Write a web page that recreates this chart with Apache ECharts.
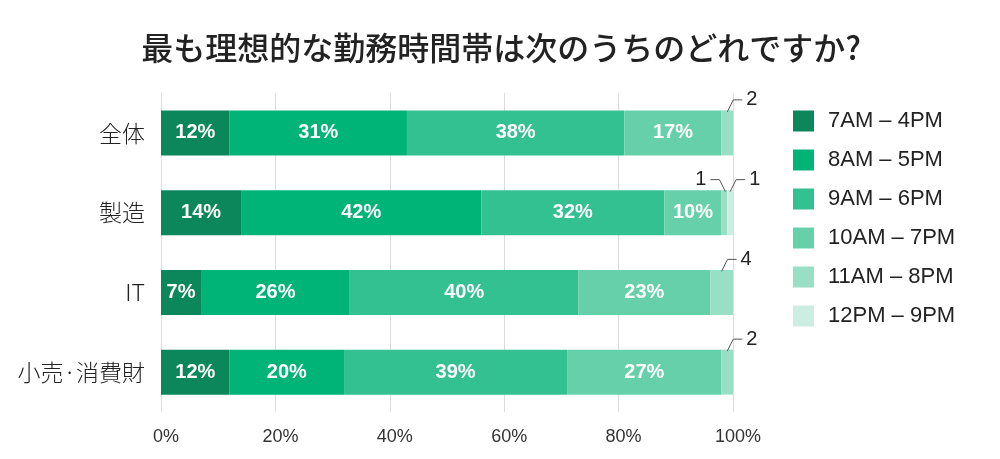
<!DOCTYPE html>
<html>
<head>
<meta charset="utf-8">
<script src="https://cdn.jsdelivr.net/npm/echarts@6/dist/echarts.min.js"></script>
<style>
  html, body { margin: 0; padding: 0; background: #fff; }
  #chart { width: 1000px; height: 459px; }
</style>
</head>
<body>
<div id="chart"></div>
<script>
// 業種
var categories = ['全体', '製造', 'IT', '小売·消費財'];
// 時間帯
var slots = ['7AM – 4PM', '8AM – 5PM', '9AM – 6PM', '10AM – 7PM', '11AM – 8PM', '12PM – 9PM'];
var colors = ['#0b875b', '#00b377', '#33c192', '#66d0ab', '#99dfc6', '#cceee2'];

// 各時間帯の割合(%)  順番は categories と同じ
var v7am = [12, 14, 7, 12];
var v8am = [31, 42, 26, 20];
var v9am = [38, 32, 40, 39];
var v10am = [17, 10, 23, 27];
var v11am = [2, 1, 4, 2];
var v12pm = [0, 1, 0, 0];
var values = [v7am, v8am, v9am, v10am, v11am, v12pm];

// 小さい値は棒の外に引き出し線で表示  [業種, 時間帯, 向き]
var calloutCat = [0, 1, 1, 2, 3];
var calloutSlot = [4, 4, 5, 4, 4];
var calloutDir = [1, -1, 1, 1, 1];

var fontLatin = 'Liberation Sans, Noto Sans CJK JP, sans-serif';
var fontJp = 'Noto Sans CJK JP, sans-serif';

var series = [];
for (var i = 0; i < slots.length; i++) {
    series.push({
        name: slots[i],
        type: 'bar',
        stack: 'total',
        barWidth: 45,
        itemStyle: { color: colors[i] },
        label: {
            show: true,
            position: 'inside',
            color: '#fff',
            fontSize: 20,
            fontWeight: 'bold',
            fontFamily: fontLatin,
            formatter: function (p) {
                return p.value >= 5 ? p.value + '%' : '';
            }
        },
        data: values[i]
    });
}

// 引き出し線のデータ  [開始, 終了, 業種, 値, 向き]
var calloutData = [];
for (var k = 0; k < calloutCat.length; k++) {
    var c = calloutCat[k], s = calloutSlot[k];
    var start = 0;
    for (var j = 0; j < s; j++) start += values[j][c];
    calloutData.push([start, start + values[s][c], c, values[s][c], calloutDir[k]]);
}

series.push({
    type: 'custom',
    silent: true,
    encode: { x: [0, 1], y: 2 },
    data: calloutData,
    z: 10,
    renderItem: function (params, api) {
        var mid = (api.value(0) + api.value(1)) / 2;
        var p = api.coord([mid, api.value(2)]);
        var dir = api.value(4);
        var x0 = p[0] + (dir > 0 ? 0 : 1);
        var y0 = p[1] - 21;
        var y1 = y0 - 12;
        var x1 = x0 + dir * 6;
        var x2 = x1 + dir * 9;
        return {
            type: 'group',
            children: [{
                type: 'polyline',
                shape: { points: [[x0, y0], [x1, y1], [x2, y1]] },
                style: { stroke: '#555', lineWidth: 1, fill: null }
            }, {
                type: 'text',
                x: x2 + dir * 4,
                y: y1,
                style: {
                    text: String(api.value(3)),
                    fill: '#222',
                    fontSize: 20,
                    fontFamily: fontLatin,
                    align: dir > 0 ? 'left' : 'right',
                    verticalAlign: 'middle'
                }
            }]
        };
    }
});

var chart = echarts.init(document.getElementById('chart'));
chart.setOption({
    animation: false,
    title: {
        text: '最も理想的な勤務時間帯は次のうちのどれですか?',
        left: 496,
        textAlign: 'center',
        top: 27,
        textStyle: { fontSize: 32, fontWeight: 500, color: '#222', fontFamily: fontJp }
    },
    legend: {
        data: slots,
        orient: 'vertical',
        left: 793,
        top: 110,
        padding: 0,
        icon: 'rect',
        itemWidth: 21,
        itemHeight: 21,
        itemGap: 17,
        textStyle: { fontSize: 22, color: '#222', fontFamily: fontLatin, padding: [0, 0, 0, 9] }
    },
    grid: { left: 161, right: 267, top: 93, bottom: 47 },
    xAxis: {
        type: 'value',
        min: 0,
        max: 100,
        interval: 20,
        axisLine: { show: false },
        axisTick: { show: false },
        splitLine: { lineStyle: { color: '#dcdcdc' } },
        axisLabel: {
            formatter: '{value}%', fontSize: 18, color: '#333', margin: 16,
            fontFamily: fontLatin, padding: [0, 0, 0, 10]
        }
    },
    yAxis: {
        type: 'category',
        inverse: true,
        data: categories,
        axisLine: { show: false },
        axisTick: { show: false },
        axisLabel: { fontSize: 23, fontWeight: 300, color: '#222', margin: 16, fontFamily: fontJp }
    },
    series: series
});
</script>
</body>
</html>
